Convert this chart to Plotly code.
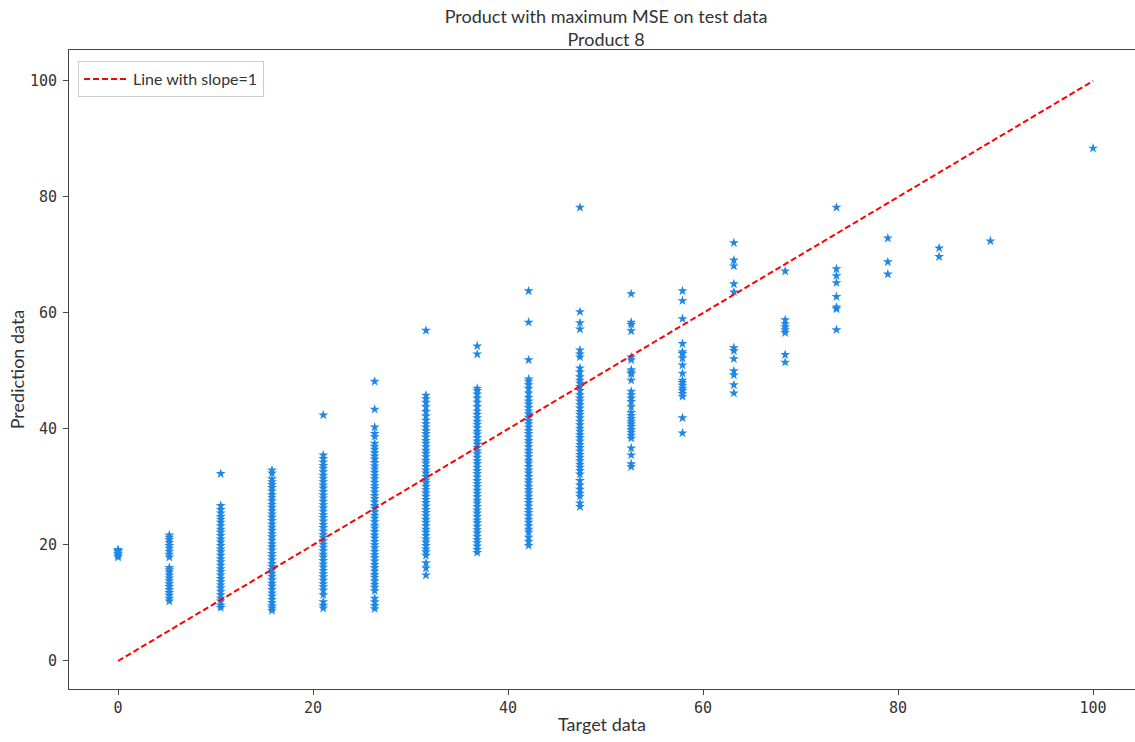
import plotly.graph_objects as go

# Target levels (x) of each column of predictions
target_levels = [0.0, 5.26, 10.53, 15.79, 21.05, 26.32, 31.58, 36.84, 42.11, 47.37,
                 52.63, 57.89, 63.16, 68.42, 73.68, 78.95, 84.21, 89.47, 100.0]

pred_0 = [17.9, 18.2, 18.5, 18.8, 19.0, 19.2]
pred_5 = [10.3, 10.8, 11.3, 11.8, 12.3, 12.8, 13.3, 13.8, 14.3, 14.8, 15.3, 15.7, 16.1,
          17.9, 18.4, 18.9, 19.4, 19.9, 20.4, 20.9, 21.3, 21.7]
pred_10 = [9.2, 9.6, 10.3, 10.8, 11.4, 12.0, 12.6, 13.1, 13.7, 14.2, 14.8, 15.4, 15.9, 16.5,
           17.1, 17.6, 18.2, 18.8, 19.3, 19.9, 20.5, 21.0, 21.6, 22.2, 22.7, 23.3, 23.9,
           24.4, 24.9, 25.5, 26.1, 26.8, 32.3]
pred_16 = [8.7, 9.1, 9.5, 10.0, 10.6, 11.2, 11.7, 12.3, 12.9, 13.4, 14.0, 14.6, 15.1, 15.7,
           16.3, 16.8, 17.4, 18.0, 18.5, 19.1, 19.7, 20.2, 20.8, 21.4, 21.9, 22.5, 23.1,
           23.6, 24.2, 24.8, 25.3, 25.9, 26.5, 27.0, 27.6, 28.2, 28.7, 29.3, 29.9, 30.4,
           30.9, 31.4, 32.4, 32.9]
pred_21 = [9.1, 9.6, 10.2, 11.4, 12.2, 12.8, 13.3, 13.9, 14.5, 15.0, 15.6, 16.2, 16.7, 17.3,
           17.9, 18.4, 19.0, 19.6, 20.1, 20.7, 21.3, 21.8, 22.4, 23.0, 23.5, 24.1, 24.7,
           25.2, 25.8, 26.4, 26.9, 27.5, 28.1, 28.6, 29.2, 29.8, 30.3, 30.9, 31.5, 32.0,
           32.6, 33.2, 33.7, 34.3, 34.9, 35.5, 42.4]
pred_26 = [9.0, 9.5, 10.2, 10.8, 12.1, 12.7, 13.2, 13.8, 14.4, 14.9, 15.5, 16.1, 16.6, 17.2,
           17.8, 18.3, 18.9, 19.5, 20.0, 20.6, 21.2, 21.7, 22.3, 22.9, 23.4, 24.0, 24.6,
           25.1, 25.7, 26.3, 26.8, 27.4, 28.0, 28.5, 29.1, 29.7, 30.2, 30.8, 31.4, 31.9,
           32.5, 33.1, 33.6, 34.2, 34.8, 35.3, 35.9, 36.5, 37.0, 37.5, 38.7, 39.2, 40.3,
           43.4, 48.2]
pred_32 = [14.8, 16.0, 16.9, 18.2, 18.8, 19.3, 19.9, 20.5, 21.0, 21.6, 22.2, 22.7, 23.3,
           23.9, 24.4, 25.0, 25.6, 26.1, 26.7, 27.3, 27.8, 28.4, 29.0, 29.5, 30.1, 30.7,
           31.2, 31.8, 32.4, 32.9, 33.5, 34.1, 34.6, 35.2, 35.8, 36.3, 36.9, 37.5, 38.0,
           38.6, 39.2, 39.7, 40.3, 40.9, 41.5, 42.2, 43.0, 43.8, 44.6, 45.2, 45.8, 57.0]
pred_37 = [18.7, 19.2, 19.8, 20.4, 20.9, 21.5, 22.1, 22.6, 23.2, 23.8, 24.3, 24.9, 25.5,
           26.0, 26.6, 27.2, 27.7, 28.3, 28.9, 29.4, 30.0, 30.6, 31.1, 31.7, 32.3, 32.8,
           33.4, 34.0, 34.5, 35.1, 35.7, 36.2, 36.8, 37.4, 37.9, 38.5, 39.1, 39.6, 40.2,
           40.8, 41.3, 41.9, 42.5, 43.1, 43.8, 44.6, 45.3, 46.0, 46.6, 47.0, 52.9, 54.3]
pred_42 = [19.9, 20.6, 21.3, 22.2, 22.7, 23.3, 23.9, 24.4, 25.0, 25.6, 26.1, 26.7, 27.3,
           27.8, 28.4, 29.0, 29.5, 30.1, 30.7, 31.2, 31.8, 32.4, 32.9, 33.5, 34.1, 34.6,
           35.2, 35.8, 36.3, 36.9, 37.5, 38.0, 38.6, 39.2, 39.7, 40.3, 40.9, 41.4, 42.0,
           42.6, 43.1, 43.7, 44.3, 44.8, 45.4, 46.2, 47.0, 47.6, 48.2, 48.6, 51.9, 58.4, 63.8]
pred_47 = [26.6, 27.2, 28.4, 28.9, 29.6, 30.3, 31.1, 32.2, 32.8, 33.4, 33.9, 34.5, 35.1,
           35.6, 36.2, 36.8, 37.3, 37.9, 38.5, 39.0, 39.6, 40.1, 40.7, 41.3, 41.9, 42.5,
           43.0, 43.6, 44.2, 44.8, 45.3, 45.9, 46.6, 47.3, 47.9, 48.4, 49.0, 49.8, 50.5,
           52.4, 52.9, 53.6, 57.2, 58.3, 60.2, 78.2]
pred_53 = [33.5, 34.0, 35.5, 36.7, 38.4, 38.9, 39.4, 39.9, 40.4, 40.9, 41.3, 41.8, 42.3,
           42.8, 43.8, 44.7, 45.3, 45.9, 46.5, 48.4, 49.5, 49.8, 50.2, 51.9, 52.4, 56.9,
           58.0, 58.4, 63.3]
pred_58 = [39.3, 41.9, 45.6, 46.1, 46.6, 47.0, 47.5, 48.0, 48.4, 49.6, 51.0, 52.2, 53.0,
           53.3, 54.7, 59.0, 62.1, 63.8]
pred_63 = [46.2, 47.6, 49.3, 50.0, 52.1, 53.5, 54.0, 63.6, 65.0, 68.1, 69.1, 72.1]
pred_68 = [51.5, 52.8, 56.6, 57.1, 57.6, 58.1, 58.8, 67.2]
pred_74 = [57.1, 60.7, 61.0, 62.8, 65.2, 66.4, 67.6, 78.2]
pred_79 = [66.7, 68.8, 72.9]
pred_84 = [69.7, 71.2]
pred_89 = [72.4]
pred_100 = [88.4]

pred_columns = [pred_0, pred_5, pred_10, pred_16, pred_21, pred_26, pred_32, pred_37,
                pred_42, pred_47, pred_53, pred_58, pred_63, pred_68, pred_74, pred_79,
                pred_84, pred_89, pred_100]

line_x = [0, 100]
line_y = [0, 100]

xs, ys = [], []
for t, col in zip(target_levels, pred_columns):
    xs.extend([t] * len(col))
    ys.extend(col)

fig = go.Figure()
fig.add_trace(go.Scatter(
    x=xs, y=ys, mode="markers", showlegend=False,
    marker=dict(symbol="star", size=7.5, color="#1f88e5", line=dict(width=0)),
))
fig.add_trace(go.Scatter(
    x=line_x, y=line_y, mode="lines", name="Line with slope=1",
    line=dict(color="red", width=2, dash="6px,3px"),
))

axis_common = dict(
    showgrid=False, zeroline=False, showline=True, linecolor="#444444", linewidth=1,
    ticks="outside", ticklen=5, tickcolor="#444444",
    tickfont=dict(family="DejaVu Sans Mono", size=15, color="#333333"),
)

fig.update_layout(
    width=1135, height=742,
    margin=dict(l=69, r=0, t=50, b=53),
    paper_bgcolor="white", plot_bgcolor="white",
    title=dict(
        text="Product with maximum MSE on test data<br>Product 8",
        x=606 / 1135, xref="container", xanchor="center",
        y=1 - 23 / 742, yref="container", yanchor="middle",
        font=dict(family="Lato", size=18, color="#333333"),
    ),
    xaxis=dict(range=[-5.03, 104.3], tickvals=[0, 20, 40, 60, 80, 100], mirror=True,
               title=dict(text="Target data", font=dict(family="Lato", size=18, color="#333333"),
                          standoff=2),
               **axis_common),
    yaxis=dict(range=[-4.83, 105.34], tickvals=[0, 20, 40, 60, 80, 100], mirror=False,
               ticklabelstandoff=3,
               title=dict(text="Prediction data", font=dict(family="Lato", size=18, color="#333333"),
                          standoff=0),
               **axis_common),
    legend=dict(
        x=(78 - 69) / 1066, y=1 - (61 - 50) / 639, xanchor="left", yanchor="top",
        bgcolor="white", bordercolor="#cccccc", borderwidth=1,
        itemwidth=44,
        font=dict(family="Lato", size=16, color="#333333"),
    ),
)

fig.write_html("out.html")
